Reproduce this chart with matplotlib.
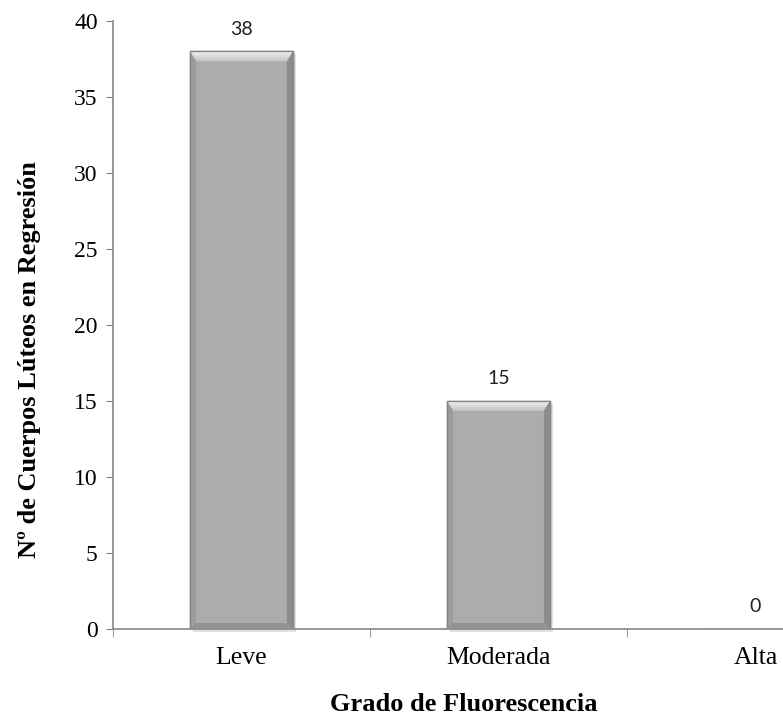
import matplotlib
matplotlib.use("Agg")
import matplotlib.pyplot as plt
from matplotlib.patches import Polygon, Rectangle

categories = ["Leve", "Moderada", "Alta"]
values = [38, 15, 0]
y_ticks = [0, 5, 10, 15, 20, 25, 30, 35, 40]

fig = plt.figure(figsize=(7.83, 7.15), dpi=100)
# axes run past the right edge, as in the cropped original
ax = fig.add_axes([113 / 783, 86 / 715, 771 / 783, 608 / 715])

ax.set_xlim(-0.5, 2.5)
ax.set_ylim(0, 40)

axis_col = "#868686"
for side in ["top", "right"]:
    ax.spines[side].set_visible(False)
for side in ["left", "bottom"]:
    ax.spines[side].set_color(axis_col)
    ax.spines[side].set_linewidth(1.2)

ax.set_yticks(y_ticks)
ax.set_yticklabels([str(t) for t in y_ticks], family="Liberation Serif", fontsize=17)
ax.tick_params(axis="y", length=5, color=axis_col, pad=6)

ax.set_xticks(range(len(categories)))
ax.set_xticklabels(categories, family="Liberation Serif", fontsize=18.5)
ax.tick_params(axis="x", which="major", length=0, pad=13)
ax.set_xticks([-0.5, 0.5, 1.5, 2.5], minor=True)
ax.tick_params(axis="x", which="minor", length=6, color=axis_col, direction="out")

width = 0.4
bars = ax.bar(range(len(categories)), values, width=width, color="#acacac",
              edgecolor="#8c8c8c", linewidth=1, zorder=3)

# pixel -> data scale for the bevel
fig.canvas.draw()
p0 = ax.transData.transform((0, 0))
p1 = ax.transData.transform((1, 1))
px_x = 1 / (p1[0] - p0[0])
px_y = 1 / (p1[1] - p0[1])

for b, v in zip(bars, values):
    if v <= 0:
        continue
    x0 = b.get_x()
    x1 = x0 + b.get_width()
    h = b.get_height()
    dx = 6 * px_x
    dt = 10 * px_y
    db = 6 * px_y
    # drop shadow
    ax.add_patch(Rectangle((x0 + 3 * px_x, -3 * px_y), x1 - x0, h, color="#000000",
                           alpha=0.12, lw=0, zorder=2, clip_on=False))
    # top bevel, light gradient
    steps = 5
    shades = ["#c4c4c4", "#cfcfcf", "#d9d9d9", "#e3e3e3", "#eeeeee"]
    for k in range(steps):
        f = 1 - k / steps
        ax.add_patch(Polygon([(x0, h), (x1, h), (x1 - dx * f, h - dt * f), (x0 + dx * f, h - dt * f)],
                             closed=True, color=shades[k], lw=0, zorder=4))
    # sides, darker
    ax.add_patch(Polygon([(x0, h), (x0 + dx, h - dt), (x0 + dx, db), (x0, 0)],
                         closed=True, color="#9c9c9c", lw=0, zorder=4))
    ax.add_patch(Polygon([(x1, h), (x1 - dx, h - dt), (x1 - dx, db), (x1, 0)],
                         closed=True, color="#8c8c8c", lw=0, zorder=4))
    # bottom bevel
    ax.add_patch(Polygon([(x0, 0), (x1, 0), (x1 - dx, db), (x0 + dx, db)],
                         closed=True, color="#939393", lw=0, zorder=4))
    ax.add_patch(Rectangle((x0, 0), x1 - x0, h, fill=False, edgecolor="#858585",
                           lw=1, zorder=5))

for i, v in enumerate(values):
    ax.annotate(str(v), (i, v), xytext=(0, 10), textcoords="offset points",
                ha="center", va="bottom", family="Lato", fontsize=14, color="#222222")

fig.text(30 / 783, 1 - 360 / 715, "Nº de Cuerpos Lúteos en Regresión", rotation=90,
         ha="center", va="center", family="Liberation Serif", fontweight="bold", fontsize=19)
fig.text(464 / 783, 1 - 693 / 715, "Grado de Fluorescencia", ha="center", va="top",
         family="Liberation Serif", fontweight="bold", fontsize=19)

fig.savefig("out.png", dpi=100)
